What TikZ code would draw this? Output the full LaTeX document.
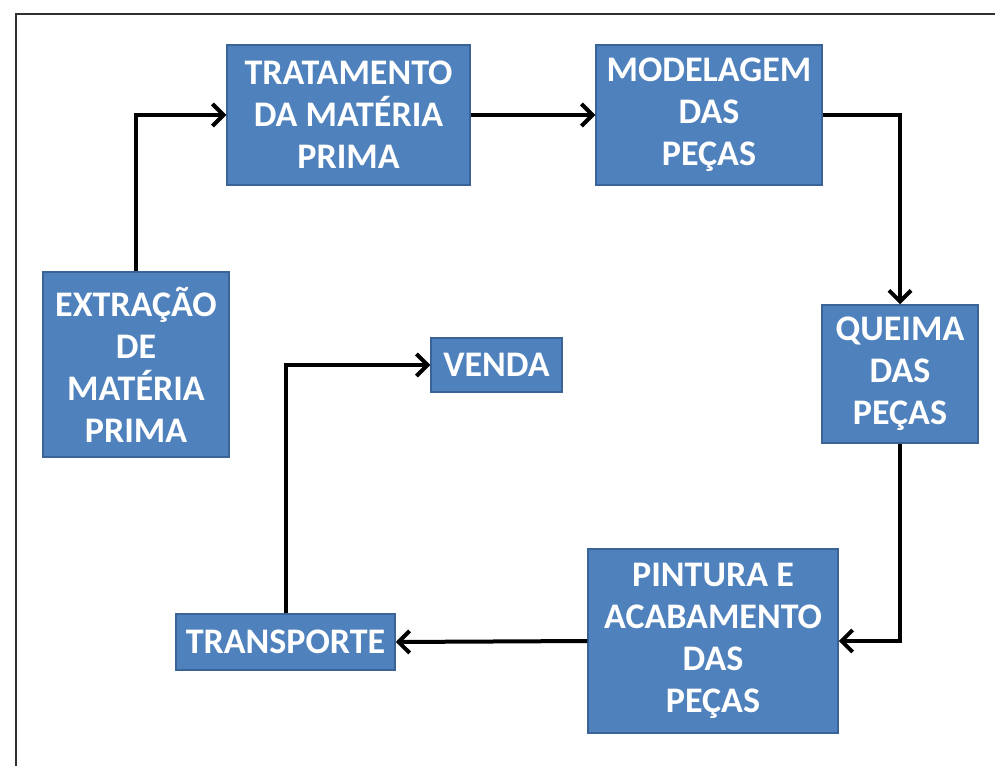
\documentclass[tikz,border=0pt]{standalone}
\usepackage{fontspec}
\setmainfont{Carlito}
\usetikzlibrary{arrows.meta}
\definecolor{boxfill}{HTML}{4F81BD}
\definecolor{boxline}{HTML}{3A6497}
\definecolor{framec}{HTML}{303030}
\tikzset{
  procbox/.style={draw=boxline, line width=1.5pt, fill=boxfill, text=white,
    font=\fontsize{36}{42}\selectfont\bfseries, align=center, inner sep=0pt},
  flow/.style={line width=4pt, -{Straight Barb[length=11pt,width=22pt,line width=4pt]}}
}
\begin{document}
\begin{tikzpicture}[x=1pt,y=-1pt]
\useasboundingbox (0,0) rectangle (995,765);
\draw[framec, line width=2pt] (16,767) -- (16,14) -- (997,14);
\node[procbox, minimum width=243pt, minimum height=140pt] (trat) at (348.5,115) {TRATAMENTO\\DA MATÉRIA\\PRIMA};
\node[procbox, minimum width=226pt, minimum height=140pt] (mod) at (709,115) {MODELAGEM\\DAS\\PEÇAS};
\node[procbox, minimum width=186pt, minimum height=185pt] (ext) at (136,364.5) {EXTRAÇÃO\\DE\\MATÉRIA\\PRIMA};
\node[procbox, minimum width=156pt, minimum height=138pt] (que) at (900,374) {QUEIMA\\DAS\\PEÇAS};
\node[procbox, minimum width=131pt, minimum height=54pt] (venda) at (496.5,365) {VENDA};
\node[procbox, minimum width=219pt, minimum height=56pt] (transp) at (285.5,642) {TRANSPORTE};
\node[procbox, minimum width=250pt, minimum height=184pt] (pint) at (713,641) {PINTURA E\\ACABAMENTO\\DAS\\PEÇAS};
\draw[flow] (ext.north) |- (trat.west);
\draw[flow] (trat.east) -- (mod.west);
\draw[flow] (mod.east) -| (que.north);
\draw[flow] (que.south) |- (pint.east);
\draw[flow] (pint.west) -- (transp.east);
\draw[flow] (transp.north) |- (venda.west);
\end{tikzpicture}
\end{document}
